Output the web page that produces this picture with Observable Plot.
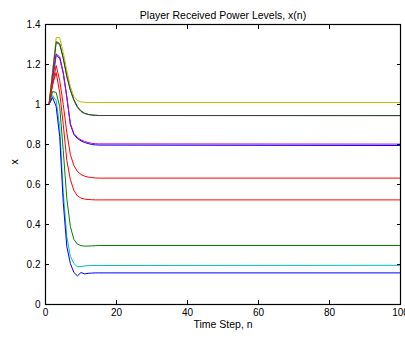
<!DOCTYPE html>
<html><head><meta charset="utf-8">
<script src="https://cdn.jsdelivr.net/npm/d3@7"></script>
<script src="https://cdn.jsdelivr.net/npm/@observablehq/plot@0.6"></script>
<style>body{margin:0;background:#fff} svg{font-family:"Liberation Sans",Arial,sans-serif}</style>
</head><body><div id="chart"></div>
<script>
const steps = [0, 1, 2, 3, 4, 5, 6, 7, 8, 9, 10, 11, 12, 13, 14, 15, 100];
const seriesNames = ["blue1", "green1", "red1", "cyan", "magenta", "yellow", "black", "blue2", "green2", "red2"];
const seriesColors = ["#0000ff", "#008000", "#ff0000", "#00bfbf", "#bf00bf", "#bfbf00", "#404040", "#0000ff", "#008000", "#ff0000"];

const blue1   = [1, 1, 1.13, 1.253, 1.237, 1.16, 1.04, 0.90, 0.85, 0.83, 0.818, 0.81, 0.805, 0.80, 0.798, 0.797, 0.795];
const green1  = [1, 1, 1.16, 1.315, 1.305, 1.235, 1.145, 1.075, 1.025, 0.99, 0.968, 0.957, 0.951, 0.948, 0.946, 0.945, 0.944];
const red1    = [1, 1, 1.10, 1.195, 1.12, 1.0, 0.86, 0.75, 0.695, 0.665, 0.65, 0.642, 0.637, 0.635, 0.633, 0.632, 0.632];
const cyan    = [1, 1, 1.045, 1.02, 0.89, 0.56, 0.34, 0.24, 0.205, 0.188, 0.19, 0.193, 0.194, 0.195, 0.195, 0.195, 0.196];
const magenta = [1, 1, 1.125, 1.245, 1.23, 1.155, 1.035, 0.905, 0.855, 0.835, 0.823, 0.815, 0.81, 0.806, 0.804, 0.803, 0.802];
const yellow  = [1, 1, 1.17, 1.335, 1.335, 1.26, 1.17, 1.09, 1.04, 1.02, 1.013, 1.011, 1.01, 1.01, 1.01, 1.01, 1.01];
const black   = [1, 1, 1.155, 1.31, 1.30, 1.23, 1.14, 1.07, 1.02, 0.985, 0.965, 0.955, 0.95, 0.947, 0.946, 0.945, 0.945];
const blue2   = [1, 1, 1.035, 0.99, 0.84, 0.51, 0.29, 0.205, 0.16, 0.143, 0.16, 0.153, 0.156, 0.157, 0.158, 0.158, 0.158];
const green2  = [1, 1, 1.065, 1.06, 0.99, 0.77, 0.53, 0.39, 0.325, 0.302, 0.294, 0.292, 0.292, 0.293, 0.294, 0.295, 0.295];
const red2    = [1, 1, 1.10, 1.16, 1.06, 0.90, 0.72, 0.625, 0.57, 0.543, 0.532, 0.527, 0.525, 0.524, 0.523, 0.523, 0.523];

const xTicks = [0, 20, 40, 60, 80, 100];
const yTicks = [0, 0.2, 0.4, 0.6, 0.8, 1, 1.2, 1.4];
const titleText = "Player Received Power Levels, x(n)";
const xLabel = "Time Step, n";
const yLabel = "x";

const valuesBySeries = [blue1, green1, red1, cyan, magenta, yellow, black, blue2, green2, red2];
const rows = valuesBySeries.flatMap((vals, i) => vals.map((v, j) => ({n: steps[j], v, s: seriesNames[i]})));

const font = "'Liberation Sans', Arial, Helvetica, sans-serif";
const chart = Plot.plot({
  width: 405, height: 338,
  marginLeft: 45, marginRight: 5, marginTop: 24, marginBottom: 34,
  style: {fontFamily: font, fontSize: "10px", background: "white", color: "black"},
  x: {domain: [0, 100]},
  y: {domain: [0, 1.4]},
  color: {domain: seriesNames, range: seriesColors},
  marks: [
    Plot.lineY(rows, {x: "n", y: "v", z: "s", stroke: "s", strokeWidth: 1}),
    Plot.frame({stroke: "black", strokeWidth: 1.2}),
    Plot.axisX({anchor: "bottom", ticks: xTicks, tickSize: -4, tickPadding: 8, tickFormat: d => String(d), label: null}),
    Plot.axisX({anchor: "top", ticks: xTicks, tickSize: -4, tickFormat: () => "", label: null}),
    Plot.axisY({anchor: "left", ticks: yTicks, tickSize: -4, tickPadding: 9, tickFormat: d => String(d), label: null}),
    Plot.axisY({anchor: "right", ticks: yTicks, tickSize: -4, tickFormat: () => "", label: null}),
    Plot.text([titleText], {text: d => d, frameAnchor: "top", dy: -13, fontSize: 10.5}),
    Plot.text([xLabel], {text: d => d, frameAnchor: "bottom", dy: 23, fontSize: 10.5}),
    Plot.text([yLabel], {text: d => d, frameAnchor: "left", dx: -31, rotate: -90, fontSize: 10.5})
  ]
});
document.getElementById("chart").appendChild(chart);
</script>
</body></html>
